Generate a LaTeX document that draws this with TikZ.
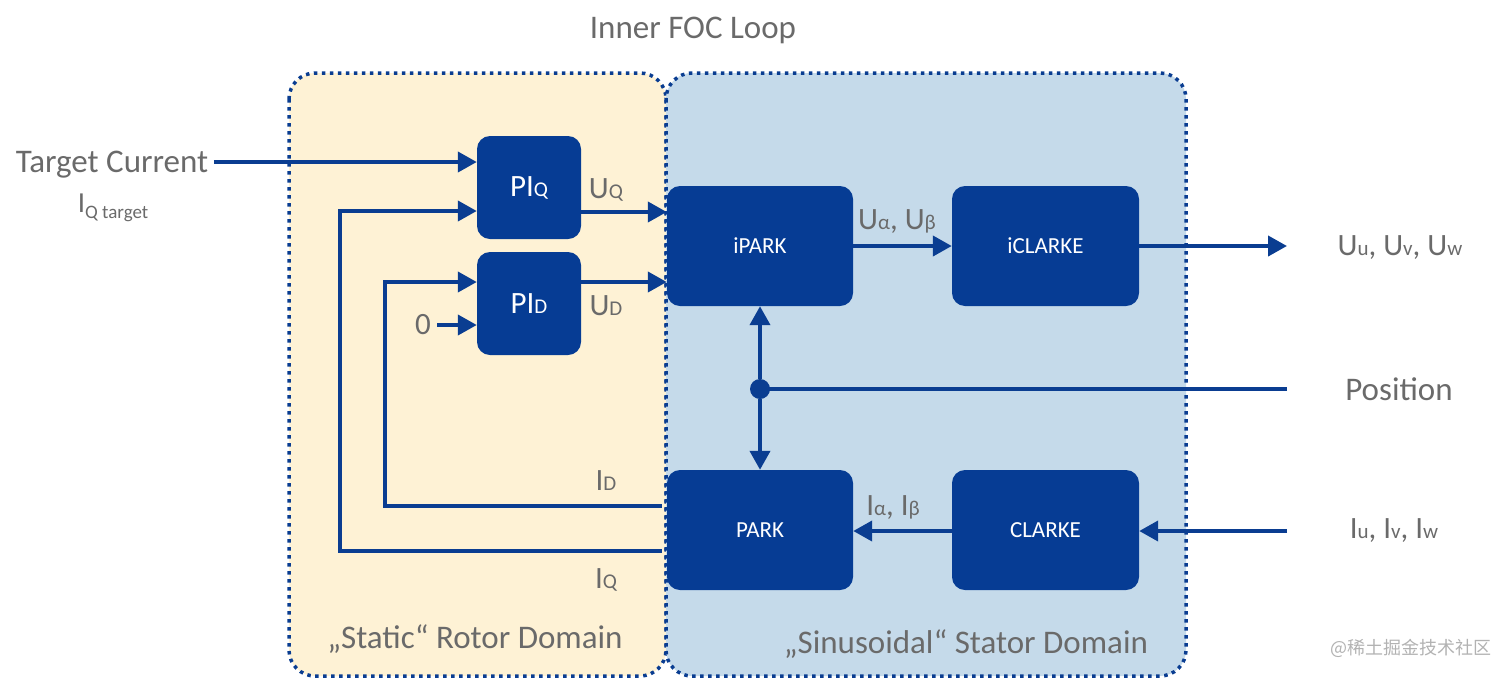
\documentclass[tikz,border=0pt]{standalone}
\usepackage{fontspec}
\setmainfont{Carlito}
\newfontfamily\cjkfont{Noto Sans CJK SC}
\usetikzlibrary{arrows.meta,calc}
\definecolor{fcblue}{HTML}{0A3D91}
\definecolor{boxblue}{HTML}{063C94}
\definecolor{rotorfill}{HTML}{FEF2D5}
\definecolor{statorfill}{HTML}{C5DAEA}
\definecolor{txtgray}{HTML}{6A6A6A}
\newcommand\fsz[1]{\fontsize{#1}{#1}\selectfont}
\newcommand\smsub[1]{{\fsz{21}#1}}
\begin{document}
\begin{tikzpicture}[x=1pt,y=-1pt,
  domainbox/.style={draw=fcblue, line width=3.5pt, dash pattern=on 3.5pt off 4.5pt, rounded corners=26pt},
  blk/.style={fill=boxblue, rounded corners=13pt, text=white, inner sep=0pt, font=\fsz{23}},
  wide/.style={blk, minimum width=186pt, minimum height=120pt},
  pibox/.style={blk, minimum width=104pt, minimum height=103pt, font=\fsz{31}},
  flow/.style={draw=fcblue, line width=4pt, -{Triangle[length=19pt,width=20pt]}},
  plain/.style={draw=fcblue, line width=4pt},
  lbl/.style={text=txtgray, inner sep=0pt, font=\fsz{31}},
  biglbl/.style={text=txtgray, inner sep=0pt, font=\fsz{33}}
]
\useasboundingbox (0,0) rectangle (1512,678);
% domains
\draw[domainbox, fill=rotorfill] (289,73) rectangle (666,676);
\draw[domainbox, fill=statorfill] (666,73) rectangle (1186,676);
\node[biglbl] (title) at (693,30) {Inner FOC Loop};
\node[biglbl] (rotor) at (475,639) {„Static“ Rotor Domain};
\node[biglbl] (stator) at (966,644) {„Sinusoidal“ Stator Domain};

% blocks
\node[pibox] (PIQ) at (529,187.5) {PI\smsub{Q}};
\node[pibox] (PID) at (529,303.5) {PI\smsub{D}};
\node[wide] (iPARK) at (760,246) {iPARK};
\node[wide, minimum width=187pt] (iCLARKE) at (1045.5,246) {iCLARKE};
\node[wide] (PARK) at (760,530) {PARK};
\node[wide, minimum width=187pt] (CLARKE) at (1045.5,530) {CLARKE};

% external labels
\node[biglbl, inner sep=5.5pt] (tc) at (112,165) {Target Current};
\node[lbl] (iqt) at (113,208) {{\fsz{29}I}\raisebox{-6pt}{\fsz{19}Q target}};
\node[lbl] (zero) at (423,325) {0};
\node[lbl] (uq) at (606,190) {U\smsub{Q}};
\node[lbl] (ud) at (606,306) {U\smsub{D}};
\node[lbl] (uab) at (897,222) {U\smsub{α}, U\smsub{β}};
\node[lbl] (uuvw) at (1400,248) {U\smsub{u}, U\smsub{v}, U\smsub{w}};
\node[biglbl] (pos) at (1399,389) {Position};
\node[lbl] (iuvw) at (1394,531) {I\smsub{u}, I\smsub{v}, I\smsub{w}};
\node[lbl] (iab) at (893,508) {I\smsub{α}, I\smsub{β}};
\node[lbl] (idl) at (606,481) {I\smsub{D}};
\node[lbl] (iql) at (606,580) {I\smsub{Q}};
\node[text=black!30, inner sep=0pt, font=\cjkfont\fsz{18}] (wm) at (1411,648) {@稀土掘金技术社区};

% coordinates
\coordinate (tcout) at ($(tc.east)+(0,-3)$);
\coordinate (fq) at (340,211);
\coordinate (fd) at (385,282);
\coordinate (uout) at (1287,246);
\coordinate (posin) at (1287,389);
\coordinate (iin) at (1287,531);
\coordinate (pqout) at ($(PIQ.east)+(0,24.5)$);
\coordinate (pdout) at ($(PID.east)+(0,-21.5)$);
\coordinate (iqstart) at ($(PARK.west)+(-5,21)$);
\coordinate (idstart) at ($(PARK.west)+(-5,-24)$);
\node[circle, fill=fcblue, minimum size=20pt, inner sep=0pt] (dot) at (760,389) {};

% connectors
\draw[flow] (tcout) -- (tcout -| PIQ.west);
\draw[flow] (iqstart) -| (fq) -- (fq -| PIQ.west);
\draw[flow] (idstart) -| (fd) -- (fd -| PID.west);
\draw[flow] ([xshift=6pt]zero.east) -- (zero.east -| PID.west);
\draw[flow] (pqout) -- (pqout -| iPARK.west);
\draw[flow] (pdout) -- (pdout -| iPARK.west);
\draw[flow] (iPARK.east) -- (iCLARKE.west);
\draw[flow] (iCLARKE.east) -- (uout);
\draw[plain] (posin) -- (dot.center);
\draw[flow] (dot) -- (iPARK.south);
\draw[flow] (dot) -- (PARK.north);
\draw[flow] (iin) -- (iin -| CLARKE.east);
\draw[flow] (CLARKE.west |- iin) -- (PARK.east |- iin);
\end{tikzpicture}
\end{document}
